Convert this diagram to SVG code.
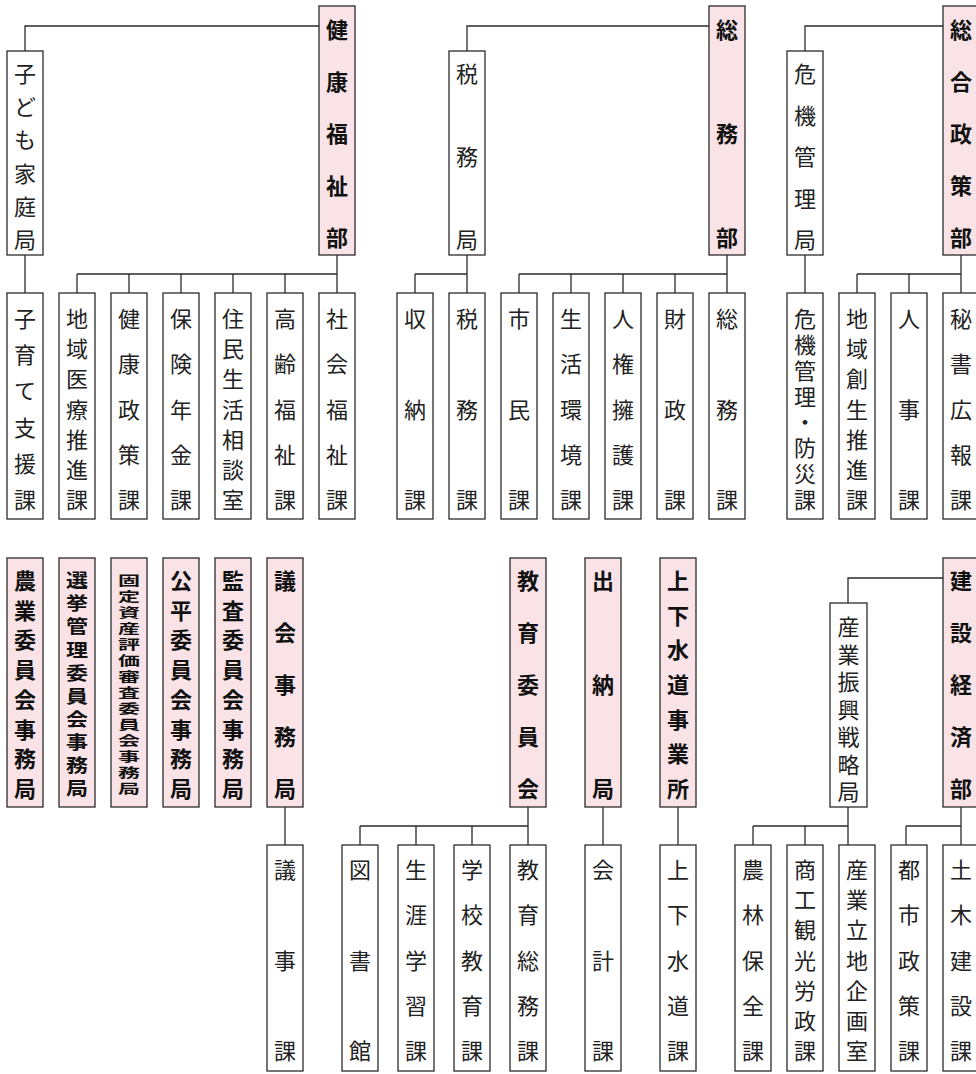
<svg xmlns="http://www.w3.org/2000/svg" width="976" height="1074" viewBox="0 0 976 1074">
<style>
.bx{fill:#ffffff;stroke:#2b2b2b;stroke-width:1.3}
.hd{fill:#f9e3e6;stroke:#2b2b2b;stroke-width:1.3}
.t{font-family:"Noto Sans CJK JP","Noto Sans CJK SC",sans-serif;font-size:22px;fill:#222;text-anchor:middle;dominant-baseline:central}
.tb{font-family:"Noto Sans CJK JP","Noto Sans CJK SC",sans-serif;font-size:22px;font-weight:bold;fill:#111;text-anchor:middle;dominant-baseline:central}
.sq{font-family:"Noto Sans CJK JP","Noto Sans CJK SC",sans-serif;font-size:12.8px;font-weight:bold;fill:#111;text-anchor:middle;dominant-baseline:central}
.sq2{font-family:"Noto Sans CJK JP","Noto Sans CJK SC",sans-serif;font-size:18.5px;font-weight:bold;fill:#111;text-anchor:middle;dominant-baseline:central}
.ln{fill:none;stroke:#2b2b2b;stroke-width:1.3}
</style>
<rect width="976" height="1074" fill="#ffffff"/>
<g id="connectors" class="ln">
<path d="M319,26H25V51M25,255V293M337,255V293M77,274H337M77,274V293M129,274V293M181,274V293M233,274V293M285,274V293"/>
<path d="M709,26H467V51M467,255V293M415,274H467M415,274V293M727,255V293M519,274H727M519,274V293M571,274V293M623,274V293M675,274V293"/>
<path d="M943,26H805V51M805,255V293M961,255V293M857,274H961M857,274V293M909,274V293"/>
<path d="M285,807V845M528,807V845M360,826H528M360,826V845M416,826V845M472,826V845M603,807V845M678,807V845"/>
<path d="M943,578H848V603M848,807V845M753,826H848M753,826V845M805,826V845M961,807V845M906,826H961M906,826V845"/>
</g>
<g id="kenko-fukushi-bu"><rect class="hd" x="319" y="6" width="36" height="249"/><text class="tb"><tspan x="337" y="28">健</tspan><tspan x="337" y="80">康</tspan><tspan x="337" y="132">福</tspan><tspan x="337" y="184">祉</tspan><tspan x="337" y="236">部</tspan></text></g>
<g id="kodomo-katei-kyoku"><rect class="bx" x="7" y="51" width="36" height="204"/><text class="t"><tspan x="25" y="72">子</tspan><tspan x="25" y="105.2">ど</tspan><tspan x="25" y="138.4">も</tspan><tspan x="25" y="171.6">家</tspan><tspan x="25" y="204.8">庭</tspan><tspan x="25" y="238">局</tspan></text></g>
<g id="kosodate-shien-ka"><rect class="bx" x="7" y="293" width="36" height="226"/><text class="t"><tspan x="25" y="317">子</tspan><tspan x="25" y="353.2">育</tspan><tspan x="25" y="389.4">て</tspan><tspan x="25" y="425.6">支</tspan><tspan x="25" y="461.8">援</tspan><tspan x="25" y="498">課</tspan></text></g>
<g id="chiiki-iryo-ka"><rect class="bx" x="59" y="293" width="36" height="226"/><text class="t"><tspan x="77" y="317">地</tspan><tspan x="77" y="347.17">域</tspan><tspan x="77" y="377.33">医</tspan><tspan x="77" y="407.5">療</tspan><tspan x="77" y="437.67">推</tspan><tspan x="77" y="467.83">進</tspan><tspan x="77" y="498">課</tspan></text></g>
<g id="kenko-seisaku-ka"><rect class="bx" x="111" y="293" width="36" height="226"/><text class="t"><tspan x="129" y="317">健</tspan><tspan x="129" y="362.25">康</tspan><tspan x="129" y="407.5">政</tspan><tspan x="129" y="452.75">策</tspan><tspan x="129" y="498">課</tspan></text></g>
<g id="hoken-nenkin-ka"><rect class="bx" x="163" y="293" width="36" height="226"/><text class="t"><tspan x="181" y="317">保</tspan><tspan x="181" y="362.25">険</tspan><tspan x="181" y="407.5">年</tspan><tspan x="181" y="452.75">金</tspan><tspan x="181" y="498">課</tspan></text></g>
<g id="jumin-seikatsu-sodanshitsu"><rect class="bx" x="215" y="293" width="36" height="226"/><text class="t"><tspan x="233" y="317">住</tspan><tspan x="233" y="347.17">民</tspan><tspan x="233" y="377.33">生</tspan><tspan x="233" y="407.5">活</tspan><tspan x="233" y="437.67">相</tspan><tspan x="233" y="467.83">談</tspan><tspan x="233" y="498">室</tspan></text></g>
<g id="korei-fukushi-ka"><rect class="bx" x="267" y="293" width="36" height="226"/><text class="t"><tspan x="285" y="317">高</tspan><tspan x="285" y="362.25">齢</tspan><tspan x="285" y="407.5">福</tspan><tspan x="285" y="452.75">祉</tspan><tspan x="285" y="498">課</tspan></text></g>
<g id="shakai-fukushi-ka"><rect class="bx" x="319" y="293" width="36" height="226"/><text class="t"><tspan x="337" y="317">社</tspan><tspan x="337" y="362.25">会</tspan><tspan x="337" y="407.5">福</tspan><tspan x="337" y="452.75">祉</tspan><tspan x="337" y="498">課</tspan></text></g>
<g id="somu-bu"><rect class="hd" x="709" y="6" width="36" height="249"/><text class="tb"><tspan x="727" y="28">総</tspan><tspan x="727" y="132">務</tspan><tspan x="727" y="236">部</tspan></text></g>
<g id="zeimu-kyoku"><rect class="bx" x="449" y="51" width="36" height="204"/><text class="t"><tspan x="467" y="72">税</tspan><tspan x="467" y="155">務</tspan><tspan x="467" y="238">局</tspan></text></g>
<g id="shuno-ka"><rect class="bx" x="397" y="293" width="36" height="226"/><text class="t"><tspan x="415" y="317">収</tspan><tspan x="415" y="407.5">納</tspan><tspan x="415" y="498">課</tspan></text></g>
<g id="zeimu-ka"><rect class="bx" x="449" y="293" width="36" height="226"/><text class="t"><tspan x="467" y="317">税</tspan><tspan x="467" y="407.5">務</tspan><tspan x="467" y="498">課</tspan></text></g>
<g id="shimin-ka"><rect class="bx" x="501" y="293" width="36" height="226"/><text class="t"><tspan x="519" y="317">市</tspan><tspan x="519" y="407.5">民</tspan><tspan x="519" y="498">課</tspan></text></g>
<g id="seikatsu-kankyo-ka"><rect class="bx" x="553" y="293" width="36" height="226"/><text class="t"><tspan x="571" y="317">生</tspan><tspan x="571" y="362.25">活</tspan><tspan x="571" y="407.5">環</tspan><tspan x="571" y="452.75">境</tspan><tspan x="571" y="498">課</tspan></text></g>
<g id="jinken-yogo-ka"><rect class="bx" x="605" y="293" width="36" height="226"/><text class="t"><tspan x="623" y="317">人</tspan><tspan x="623" y="362.25">権</tspan><tspan x="623" y="407.5">擁</tspan><tspan x="623" y="452.75">護</tspan><tspan x="623" y="498">課</tspan></text></g>
<g id="zaisei-ka"><rect class="bx" x="657" y="293" width="36" height="226"/><text class="t"><tspan x="675" y="317">財</tspan><tspan x="675" y="407.5">政</tspan><tspan x="675" y="498">課</tspan></text></g>
<g id="somu-ka"><rect class="bx" x="709" y="293" width="36" height="226"/><text class="t"><tspan x="727" y="317">総</tspan><tspan x="727" y="407.5">務</tspan><tspan x="727" y="498">課</tspan></text></g>
<g id="sogo-seisaku-bu"><rect class="hd" x="943" y="6" width="36" height="249"/><text class="tb"><tspan x="961" y="28">総</tspan><tspan x="961" y="80">合</tspan><tspan x="961" y="132">政</tspan><tspan x="961" y="184">策</tspan><tspan x="961" y="236">部</tspan></text></g>
<g id="kiki-kanri-kyoku"><rect class="bx" x="787" y="51" width="36" height="204"/><text class="t"><tspan x="805" y="72">危</tspan><tspan x="805" y="113.5">機</tspan><tspan x="805" y="155">管</tspan><tspan x="805" y="196.5">理</tspan><tspan x="805" y="238">局</tspan></text></g>
<g id="kiki-kanri-bosai-ka"><rect class="bx" x="787" y="293" width="36" height="226"/><text class="t"><tspan x="805" y="317">危</tspan><tspan x="805" y="342.86">機</tspan><tspan x="805" y="368.71">管</tspan><tspan x="805" y="394.57">理</tspan><tspan x="805" y="420.43">・</tspan><tspan x="805" y="446.29">防</tspan><tspan x="805" y="472.14">災</tspan><tspan x="805" y="498">課</tspan></text></g>
<g id="chiiki-sosei-ka"><rect class="bx" x="839" y="293" width="36" height="226"/><text class="t"><tspan x="857" y="317">地</tspan><tspan x="857" y="347.17">域</tspan><tspan x="857" y="377.33">創</tspan><tspan x="857" y="407.5">生</tspan><tspan x="857" y="437.67">推</tspan><tspan x="857" y="467.83">進</tspan><tspan x="857" y="498">課</tspan></text></g>
<g id="jinji-ka"><rect class="bx" x="891" y="293" width="36" height="226"/><text class="t"><tspan x="909" y="317">人</tspan><tspan x="909" y="407.5">事</tspan><tspan x="909" y="498">課</tspan></text></g>
<g id="hisho-koho-ka"><rect class="bx" x="943" y="293" width="36" height="226"/><text class="t"><tspan x="961" y="317">秘</tspan><tspan x="961" y="362.25">書</tspan><tspan x="961" y="407.5">広</tspan><tspan x="961" y="452.75">報</tspan><tspan x="961" y="498">課</tspan></text></g>
<g id="nogyo-iinkai"><rect class="hd" x="7" y="558" width="36" height="249"/><text class="tb"><tspan x="25" y="579">農</tspan><tspan x="25" y="608.71">業</tspan><tspan x="25" y="638.43">委</tspan><tspan x="25" y="668.14">員</tspan><tspan x="25" y="697.86">会</tspan><tspan x="25" y="727.57">事</tspan><tspan x="25" y="757.29">務</tspan><tspan x="25" y="787">局</tspan></text></g>
<g id="senkyo-kanri-iinkai"><rect class="hd" x="59" y="558" width="36" height="249"/><text class="sq2" transform="translate(77 0) scale(1.19 1)"><tspan x="0" y="579">選</tspan><tspan x="0" y="602.11">挙</tspan><tspan x="0" y="625.22">管</tspan><tspan x="0" y="648.33">理</tspan><tspan x="0" y="671.44">委</tspan><tspan x="0" y="694.56">員</tspan><tspan x="0" y="717.67">会</tspan><tspan x="0" y="740.78">事</tspan><tspan x="0" y="763.89">務</tspan><tspan x="0" y="787">局</tspan></text></g>
<g id="kotei-shisan-iinkai">
<rect class="hd" x="111" y="558" width="36" height="249"/>
<text class="sq" transform="translate(129 0) scale(1.72 1)"><tspan x="0" y="579">固</tspan><tspan x="0" y="595">定</tspan><tspan x="0" y="611">資</tspan><tspan x="0" y="627">産</tspan><tspan x="0" y="643">評</tspan><tspan x="0" y="659">価</tspan><tspan x="0" y="675">審</tspan><tspan x="0" y="691">査</tspan><tspan x="0" y="707">委</tspan><tspan x="0" y="723">員</tspan><tspan x="0" y="739">会</tspan><tspan x="0" y="755">事</tspan><tspan x="0" y="771">務</tspan><tspan x="0" y="787">局</tspan></text>
</g>
<g id="kohei-iinkai"><rect class="hd" x="163" y="558" width="36" height="249"/><text class="tb"><tspan x="181" y="579">公</tspan><tspan x="181" y="608.71">平</tspan><tspan x="181" y="638.43">委</tspan><tspan x="181" y="668.14">員</tspan><tspan x="181" y="697.86">会</tspan><tspan x="181" y="727.57">事</tspan><tspan x="181" y="757.29">務</tspan><tspan x="181" y="787">局</tspan></text></g>
<g id="kansa-iin-jimukyoku"><rect class="hd" x="215" y="558" width="36" height="249"/><text class="tb"><tspan x="233" y="579">監</tspan><tspan x="233" y="608.71">査</tspan><tspan x="233" y="638.43">委</tspan><tspan x="233" y="668.14">員</tspan><tspan x="233" y="697.86">会</tspan><tspan x="233" y="727.57">事</tspan><tspan x="233" y="757.29">務</tspan><tspan x="233" y="787">局</tspan></text></g>
<g id="gikai-jimukyoku"><rect class="hd" x="267" y="558" width="36" height="249"/><text class="tb"><tspan x="285" y="579">議</tspan><tspan x="285" y="631">会</tspan><tspan x="285" y="683">事</tspan><tspan x="285" y="735">務</tspan><tspan x="285" y="787">局</tspan></text></g>
<g id="giji-ka"><rect class="bx" x="267" y="845" width="36" height="226"/><text class="t"><tspan x="285" y="868">議</tspan><tspan x="285" y="958.5">事</tspan><tspan x="285" y="1049">課</tspan></text></g>
<g id="kyoiku-iinkai"><rect class="hd" x="510" y="558" width="36" height="249"/><text class="tb"><tspan x="528" y="579">教</tspan><tspan x="528" y="631">育</tspan><tspan x="528" y="683">委</tspan><tspan x="528" y="735">員</tspan><tspan x="528" y="787">会</tspan></text></g>
<g id="toshokan"><rect class="bx" x="342" y="845" width="36" height="226"/><text class="t"><tspan x="360" y="868">図</tspan><tspan x="360" y="958.5">書</tspan><tspan x="360" y="1049">館</tspan></text></g>
<g id="shogai-gakushu-ka"><rect class="bx" x="398" y="845" width="36" height="226"/><text class="t"><tspan x="416" y="868">生</tspan><tspan x="416" y="913.25">涯</tspan><tspan x="416" y="958.5">学</tspan><tspan x="416" y="1003.75">習</tspan><tspan x="416" y="1049">課</tspan></text></g>
<g id="gakko-kyoiku-ka"><rect class="bx" x="454" y="845" width="36" height="226"/><text class="t"><tspan x="472" y="868">学</tspan><tspan x="472" y="913.25">校</tspan><tspan x="472" y="958.5">教</tspan><tspan x="472" y="1003.75">育</tspan><tspan x="472" y="1049">課</tspan></text></g>
<g id="kyoiku-somu-ka"><rect class="bx" x="510" y="845" width="36" height="226"/><text class="t"><tspan x="528" y="868">教</tspan><tspan x="528" y="913.25">育</tspan><tspan x="528" y="958.5">総</tspan><tspan x="528" y="1003.75">務</tspan><tspan x="528" y="1049">課</tspan></text></g>
<g id="suito-kyoku"><rect class="hd" x="585" y="558" width="36" height="249"/><text class="tb"><tspan x="603" y="579">出</tspan><tspan x="603" y="683">納</tspan><tspan x="603" y="787">局</tspan></text></g>
<g id="kaikei-ka"><rect class="bx" x="585" y="845" width="36" height="226"/><text class="t"><tspan x="603" y="868">会</tspan><tspan x="603" y="958.5">計</tspan><tspan x="603" y="1049">課</tspan></text></g>
<g id="jogesuido-jigyosho"><rect class="hd" x="660" y="558" width="36" height="249"/><text class="tb"><tspan x="678" y="579">上</tspan><tspan x="678" y="613.67">下</tspan><tspan x="678" y="648.33">水</tspan><tspan x="678" y="683">道</tspan><tspan x="678" y="717.67">事</tspan><tspan x="678" y="752.33">業</tspan><tspan x="678" y="787">所</tspan></text></g>
<g id="jogesuido-ka"><rect class="bx" x="660" y="845" width="36" height="226"/><text class="t"><tspan x="678" y="868">上</tspan><tspan x="678" y="913.25">下</tspan><tspan x="678" y="958.5">水</tspan><tspan x="678" y="1003.75">道</tspan><tspan x="678" y="1049">課</tspan></text></g>
<g id="kensetsu-keizai-bu"><rect class="hd" x="943" y="558" width="36" height="249"/><text class="tb"><tspan x="961" y="579">建</tspan><tspan x="961" y="631">設</tspan><tspan x="961" y="683">経</tspan><tspan x="961" y="735">済</tspan><tspan x="961" y="787">部</tspan></text></g>
<g id="sangyo-shinko-kyoku"><rect class="bx" x="830" y="603" width="37" height="204"/><text class="t"><tspan x="848.5" y="625">産</tspan><tspan x="848.5" y="652.5">業</tspan><tspan x="848.5" y="680">振</tspan><tspan x="848.5" y="707.5">興</tspan><tspan x="848.5" y="735">戦</tspan><tspan x="848.5" y="762.5">略</tspan><tspan x="848.5" y="790">局</tspan></text></g>
<g id="norin-hozen-ka"><rect class="bx" x="735" y="845" width="36" height="226"/><text class="t"><tspan x="753" y="868">農</tspan><tspan x="753" y="913.25">林</tspan><tspan x="753" y="958.5">保</tspan><tspan x="753" y="1003.75">全</tspan><tspan x="753" y="1049">課</tspan></text></g>
<g id="shoko-kanko-ka"><rect class="bx" x="787" y="845" width="36" height="226"/><text class="t"><tspan x="805" y="868">商</tspan><tspan x="805" y="898.17">工</tspan><tspan x="805" y="928.33">観</tspan><tspan x="805" y="958.5">光</tspan><tspan x="805" y="988.67">労</tspan><tspan x="805" y="1018.83">政</tspan><tspan x="805" y="1049">課</tspan></text></g>
<g id="sangyo-richi-shitsu"><rect class="bx" x="839" y="845" width="36" height="226"/><text class="t"><tspan x="857" y="868">産</tspan><tspan x="857" y="898.17">業</tspan><tspan x="857" y="928.33">立</tspan><tspan x="857" y="958.5">地</tspan><tspan x="857" y="988.67">企</tspan><tspan x="857" y="1018.83">画</tspan><tspan x="857" y="1049">室</tspan></text></g>
<g id="toshi-seisaku-ka"><rect class="bx" x="891" y="845" width="36" height="226"/><text class="t"><tspan x="909" y="868">都</tspan><tspan x="909" y="913.25">市</tspan><tspan x="909" y="958.5">政</tspan><tspan x="909" y="1003.75">策</tspan><tspan x="909" y="1049">課</tspan></text></g>
<g id="doboku-kensetsu-ka"><rect class="bx" x="943" y="845" width="36" height="226"/><text class="t"><tspan x="961" y="868">土</tspan><tspan x="961" y="913.25">木</tspan><tspan x="961" y="958.5">建</tspan><tspan x="961" y="1003.75">設</tspan><tspan x="961" y="1049">課</tspan></text></g>
</svg>
